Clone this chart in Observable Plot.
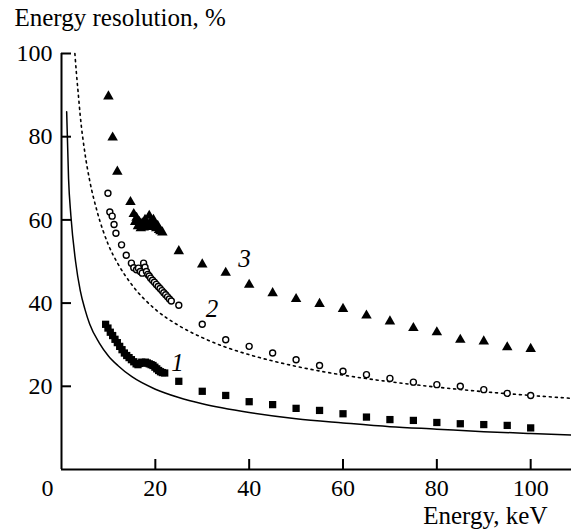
<!DOCTYPE html>
<html>
<head>
<meta charset="utf-8">
<script src="https://cdn.jsdelivr.net/npm/d3@7"></script>
<script src="https://cdn.jsdelivr.net/npm/@observablehq/plot@0.6"></script>
<style>
  body { margin: 0; background: #fff; }
  svg { display: block; }
  svg text { font-family: "Liberation Serif", "Times New Roman", Times, "DejaVu Serif", "Noto Serif", serif; }
</style>
</head>
<body>
<div id="chart"></div>
<script>
// Solid curve
const solidE = [1.1, 1.5, 2, 3, 4, 5, 6, 8, 10, 12, 15, 20, 25, 30, 40, 50, 60, 70, 80, 90, 100, 108.7];
const solidR = [86, 70, 61, 50, 43, 38.5, 35, 30.5, 27.3, 25, 22.3, 19.3, 17.3, 15.8, 13.7, 12.2, 11.2, 10.3, 9.7, 9.1, 8.65, 8.3];
// Dotted curve
const dotE = [2.85, 3.2, 3.6, 4, 5, 6, 7.6, 10, 12, 15, 20, 25, 30, 35, 40, 50, 60, 70, 80, 90, 100, 108.7];
const dotR = [100, 95, 90, 85, 76, 69.5, 62, 54, 49.5, 44.4, 38.5, 34.6, 31.7, 29.4, 27.6, 24.8, 22.7, 21.1, 19.8, 18.7, 17.8, 17.1];
// Series 1 (squares)
const sqE = [9.4, 9.9, 10.4, 10.9, 11.4, 11.9, 12.4, 12.9, 13.4, 13.9, 14.4, 14.9, 15.4, 15.9, 16.3, 16.7, 17.1, 17.5, 17.9, 18.3, 18.7, 19.1, 19.5, 19.9, 20.3, 20.7, 21.1, 21.5, 22, 25, 30, 35, 40, 45, 50, 55, 60, 65, 70, 75, 80, 85, 90, 95, 100];
const sqR = [34.9, 34, 33, 32.2, 31.3, 30.5, 29.6, 28.8, 28, 27.4, 26.9, 26.4, 25.9, 25.4, 25.2, 25.5, 25.8, 25.6, 25.8, 25.6, 25.4, 25.2, 25, 24.6, 24.2, 23.8, 23.5, 23.3, 23.2, 21.2, 18.8, 17.8, 16.3, 15.6, 14.7, 14.2, 13.4, 12.6, 12, 11.8, 11.3, 11, 10.8, 10.6, 10];
// Series 2 (open circles)
const ciE = [9.9, 10.3, 10.8, 11.2, 11.6, 12.8, 13.8, 14.9, 15.4, 16, 16.4, 16.8, 17.2, 17.5, 17.8, 18.1, 18.4, 18.7, 19, 19.4, 19.8, 20.2, 20.6, 21, 21.4, 21.8, 22.2, 22.6, 23, 23.4, 25, 30, 35, 40, 45, 50, 55, 60, 65, 70, 75, 80, 85, 90, 95, 100];
const ciR = [66.4, 61.9, 60.9, 58.9, 56.8, 54, 51.5, 49.6, 48.5, 48, 48.4, 47.6, 47.2, 49.6, 48.6, 47.6, 46.9, 46.5, 46, 45.5, 45, 44.5, 44, 43.5, 43, 42.5, 42, 41.5, 41, 40.5, 39.5, 34.9, 31.2, 29.6, 28, 26.4, 25, 23.6, 22.8, 21.9, 21, 20.4, 20, 19.2, 18.3, 17.8];
// Series 3 (triangles)
const trE = [10, 10.9, 11.9, 14.7, 15.4, 15.7, 16, 16.3, 16.6, 16.9, 17.2, 17.5, 17.8, 18.1, 18.4, 18.7, 19, 19.3, 19.6, 19.9, 20.2, 20.5, 20.8, 21.1, 21.5, 25, 30, 35, 40, 45, 50, 55, 60, 65, 70, 75, 80, 85, 90, 95, 100];
const trR = [89.7, 79.8, 71.6, 64.3, 61.4, 59.5, 60.5, 58.5, 59.5, 58, 59.2, 58.2, 60, 58.5, 59, 61, 59.5, 58.3, 60, 58.8, 58, 58.6, 57.6, 57.3, 57, 52.5, 49.3, 47.3, 44.4, 42.4, 41, 39.8, 38.6, 37, 35.6, 34, 33, 31.2, 30.8, 29.4, 29];
// Curve labels
const labelText = ["1", "2", "3"];
const labelE = [24.7, 32.1, 39];
const labelR = [25.5, 38.7, 50.5];
// Ticks
const xTicks = [20, 40, 60, 80, 100];
const yTicks = [20, 40, 60, 80, 100];

const zip = (a, b) => a.map((x, i) => ({x, y: b[i]}));
const font = "Liberation Serif, Times New Roman, Times, DejaVu Serif, serif";

const chart = Plot.plot({
  width: 571,
  height: 531,
  marginLeft: 61,
  marginRight: 0,
  marginTop: 53,
  marginBottom: 62,
  x: {domain: [0, 108.7], axis: null},
  y: {domain: [0, 100], axis: null},
  style: {fontFamily: font, background: "#fff", color: "#000"},
  marks: [
    Plot.line(zip(solidE, solidR), {x: "x", y: "y", stroke: "#000", strokeWidth: 1.5, curve: "monotone-x"}),
    Plot.line(zip(dotE, dotR), {x: "x", y: "y", stroke: "#000", strokeWidth: 1.6, strokeDasharray: "2,4", curve: "monotone-x"}),
    Plot.dot(zip(sqE, sqR), {x: "x", y: "y", symbol: "square", r: 4.1, fill: "#000", stroke: "none"}),
    Plot.dot(zip(ciE, ciR), {x: "x", y: "y", symbol: "circle", r: 3, fill: "#fff", stroke: "#000", strokeWidth: 1.4}),
    Plot.dot(zip(trE, trR), {x: "x", y: "y", symbol: "triangle", r: 3.9, fill: "#000", stroke: "none"}),
    Plot.text(labelText, {x: (d, i) => labelE[i], y: (d, i) => labelR[i], text: d => d, fontSize: 25, fontStyle: "italic", fill: "#000"}),
    // axes
    Plot.ruleX([0], {y1: 0, y2: 100, stroke: "#000", strokeWidth: 2}),
    Plot.ruleY([0], {x1: 0, x2: 108.7, stroke: "#000", strokeWidth: 2}),
    Plot.tickX(xTicks, {x: d => d, insetTop: 406, stroke: "#000", strokeWidth: 2}),
    Plot.tickY(yTicks, {y: d => d, insetRight: 500, stroke: "#000", strokeWidth: 2}),
    Plot.text(xTicks, {x: d => d, y: 0, dy: 19, text: d => String(d), fontSize: 24, textAnchor: "middle", lineAnchor: "middle", fill: "#000"}),
    Plot.text(yTicks, {x: 0, y: d => d, dx: -9, text: d => String(d), fontSize: 24, textAnchor: "end", lineAnchor: "middle", fill: "#000"}),
    Plot.text(["0"], {x: 0, y: 0, dx: -14, dy: 19, text: d => d, fontSize: 24, textAnchor: "middle", lineAnchor: "middle", fill: "#000"}),
    // axis titles
    Plot.text(["Energy resolution, %"], {frameAnchor: "top-left", dx: -47, dy: -36, text: d => d, fontSize: 25, textAnchor: "start", lineAnchor: "middle", fill: "#000"}),
    Plot.text(["Energy, keV"], {frameAnchor: "bottom-right", dx: -24, dy: 46, text: d => d, fontSize: 25, textAnchor: "end", lineAnchor: "middle", fill: "#000"})
  ]
});
document.getElementById("chart").appendChild(chart);
</script>
</body>
</html>
